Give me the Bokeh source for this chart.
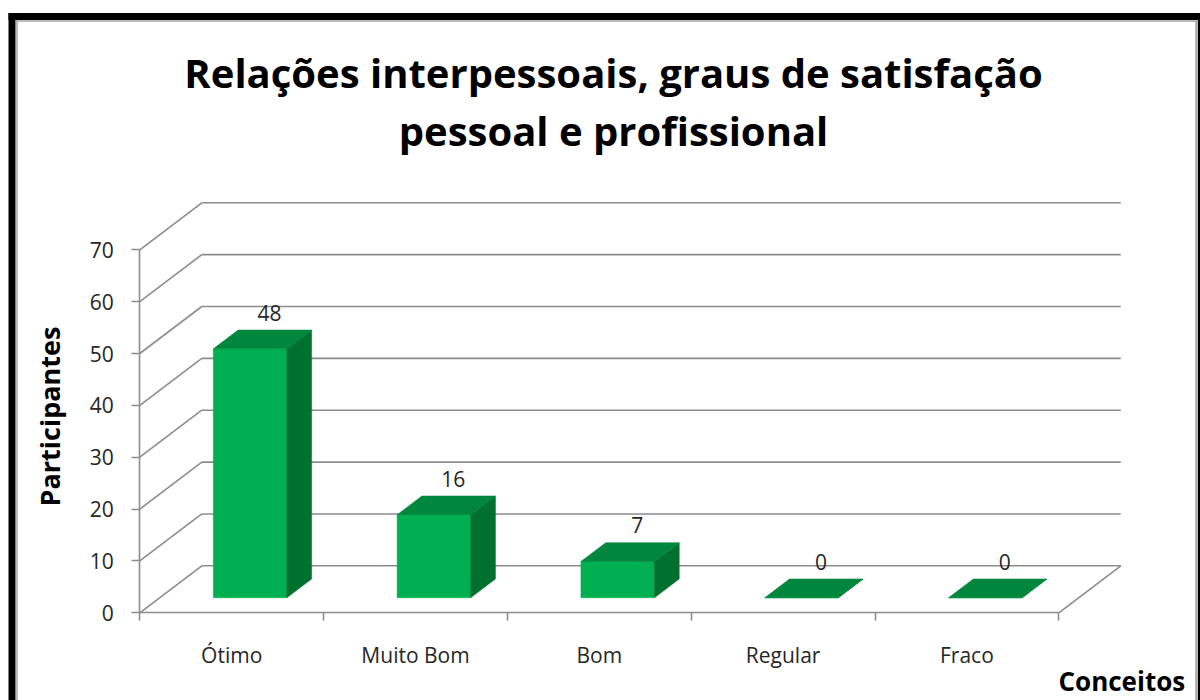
import math
from bokeh.plotting import figure
from bokeh.models import LinearAxis, FixedTicker, Label, Range1d, ColumnDataSource
from bokeh.core.properties import value
from bokeh.embed import file_html
from bokeh.resources import INLINE

# ---------------- data ----------------
categories = ["Ótimo", "Muito Bom", "Bom", "Regular", "Fraco"]
participants = [48, 16, 7, 0, 0]
y_ticks = [0, 10, 20, 30, 40, 50, 60, 70]
title_lines = ["Relações interpessoais, graus de satisfação", "pessoal e profissional"]
y_title = "Participantes"
x_title = "Conceitos"

# ---------------- geometry ----------------
W, H = 1200, 700          # canvas size
OFF = 0                   # canvas origin on the picture
PX_X0 = 139.3             # picture x of the front y axis
PX_PER_CAT = 183.8        # px per category
PX_Y0 = 612.3             # picture y of value 0 on the front plane
PX_PER_UNIT = 5.186       # px per value unit

def ix(px):
    return (px - PX_X0) / PX_PER_CAT

def iy(py):
    return (PX_Y0 - py) / PX_PER_UNIT

DX = 62 / PX_PER_CAT      # depth offset of the back wall (x, data units)
DY = 47 / PX_PER_UNIT     # depth offset of the back wall (y, data units)
F0, F1 = 0.32, 0.72       # bar front / back depth fractions
BAR_L, BAR_W = 0.292, 0.40
n = len(categories)
ymax = max(y_ticks)

FONT = "Open Sans"
GRID = "#8c8c8c"
FRONT, SIDE, TOP = "#00b050", "#00702f", "#00873d"

p = figure(width=W, height=H, output_backend="svg", toolbar_location=None,
           x_range=Range1d(ix(OFF), ix(OFF + W)),
           y_range=Range1d(iy(OFF + H), iy(OFF)),
           x_axis_location=None, y_axis_location=None,
           min_border=0, min_border_left=0, min_border_right=0,
           min_border_top=0, min_border_bottom=0)
p.outline_line_color = None
p.background_fill_color = "white"
p.border_fill_color = "white"
p.grid.visible = False

# ---------------- walls / gridlines ----------------
bx0 = [DX for t in y_ticks]
bx1 = [n + DX for t in y_ticks]
by = [t + DY for t in y_ticks]
p.segment(x0=bx0, y0=by, x1=bx1, y1=by, line_color=GRID, line_width=1.6)
p.segment(x0=[0] * len(y_ticks), y0=y_ticks, x1=bx0, y1=by, line_color=GRID, line_width=1.6)
p.segment(x0=[n], y0=[0], x1=[n + DX], y1=[DY], line_color=GRID, line_width=1.6)

# ---------------- 3D bars ----------------
fx, fy, sx, sy, tx, ty = [], [], [], [], [], []
for i, v in enumerate(participants):
    a = i + BAR_L
    b = a + BAR_W
    fx.append([a + F0 * DX, b + F0 * DX, b + F0 * DX, a + F0 * DX])
    fy.append([F0 * DY, F0 * DY, v + F0 * DY, v + F0 * DY])
    sx.append([b + F0 * DX, b + F1 * DX, b + F1 * DX, b + F0 * DX])
    sy.append([F0 * DY, F1 * DY, v + F1 * DY, v + F0 * DY])
    tx.append([a + F0 * DX, b + F0 * DX, b + F1 * DX, a + F1 * DX])
    ty.append([v + F0 * DY, v + F0 * DY, v + F1 * DY, v + F1 * DY])
p.patches(fx, fy, fill_color=FRONT, line_color=FRONT, line_width=0.5)
p.patches(sx, sy, fill_color=SIDE, line_color=SIDE, line_width=0.5)
p.patches(tx, ty, fill_color=TOP, line_color=TOP, line_width=0.5)

# data labels
lab_src = ColumnDataSource(dict(
    x=[i + 0.5 + F0 * DX + 18 / PX_PER_CAT for i in range(n)],
    y=[v + F0 * DY + 36 / PX_PER_UNIT for v in participants],
    t=[str(v) for v in participants]))
p.text(x="x", y="y", text="t", source=lab_src, text_font=value(FONT),
       text_font_size="21px", text_color="#262626", text_align="center",
       text_baseline="middle")

# ---------------- axes ----------------
yax = LinearAxis(fixed_location=0, bounds=(0, ymax),
                 ticker=FixedTicker(ticks=y_ticks))
yax.axis_line_color = GRID
yax.axis_line_width = 1.6
yax.major_tick_line_color = GRID
yax.major_tick_line_width = 1.6
yax.major_tick_out = 8
yax.major_tick_in = 0
yax.minor_tick_line_color = None
yax.major_label_standoff = 18
yax.major_label_text_font = FONT
yax.major_label_text_font_size = "21px"
yax.major_label_text_color = "#262626"
p.add_layout(yax, "left")

centers = [i + 0.5 for i in range(n)]
xax = LinearAxis(fixed_location=0, bounds=(0, n),
                 ticker=FixedTicker(ticks=centers, minor_ticks=list(range(n + 1))))
xax.major_label_overrides = {c: name for c, name in zip(centers, categories)}
xax.axis_line_color = GRID
xax.axis_line_width = 1.6
xax.major_tick_line_color = None
xax.major_tick_out = 0
xax.major_tick_in = 0
xax.minor_tick_line_color = GRID
xax.minor_tick_line_width = 1.6
xax.minor_tick_out = 8
xax.minor_tick_in = 0
xax.major_label_standoff = 20
xax.major_label_text_font = FONT
xax.major_label_text_font_size = "21px"
xax.major_label_text_color = "#262626"
p.add_layout(xax, "below")

# ---------------- titles ----------------
for line, py in zip(title_lines, [72, 130]):
    p.add_layout(Label(x=ix(613), y=iy(py), text=line, text_font=FONT,
                       text_font_size="40px", text_font_style="bold",
                       text_color="black", text_align="center",
                       text_baseline="alphabetic"))

p.add_layout(Label(x=ix(49), y=iy(416), text=y_title, angle=math.pi / 2,
                   text_font=FONT, text_font_size="27px", text_font_style="bold",
                   text_color="black", text_align="center", text_baseline="middle"))

p.text(x=[ix(1058)], y=[iy(680)], text=[x_title], text_font=value(FONT),
       text_font_size="26px", text_font_style="bold", text_color="black",
       text_align="left", text_baseline="alphabetic")

# ---------------- chart frame ----------------
p.segment(x0=[ix(8)], y0=[iy(16)], x1=[ix(1200)], y1=[iy(16)],
          line_color="black", line_width=7)
p.segment(x0=[ix(11.5)], y0=[iy(13)], x1=[ix(11.5)], y1=[iy(700)],
          line_color="black", line_width=7)
p.segment(x0=[ix(1199)], y0=[iy(13)], x1=[ix(1199)], y1=[iy(700)],
          line_color="black", line_width=3)
p.segment(x0=[ix(16.5), ix(15), ix(1196)], y0=[iy(700), iy(20.5), iy(20)],
          x1=[ix(16.5), ix(1197), ix(1196)], y1=[iy(20), iy(20.5), iy(700)],
          line_color="#a6a6a6", line_width=[1.5, 1.5, 2.5])

open("out.html", "w").write(file_html(p, INLINE))
